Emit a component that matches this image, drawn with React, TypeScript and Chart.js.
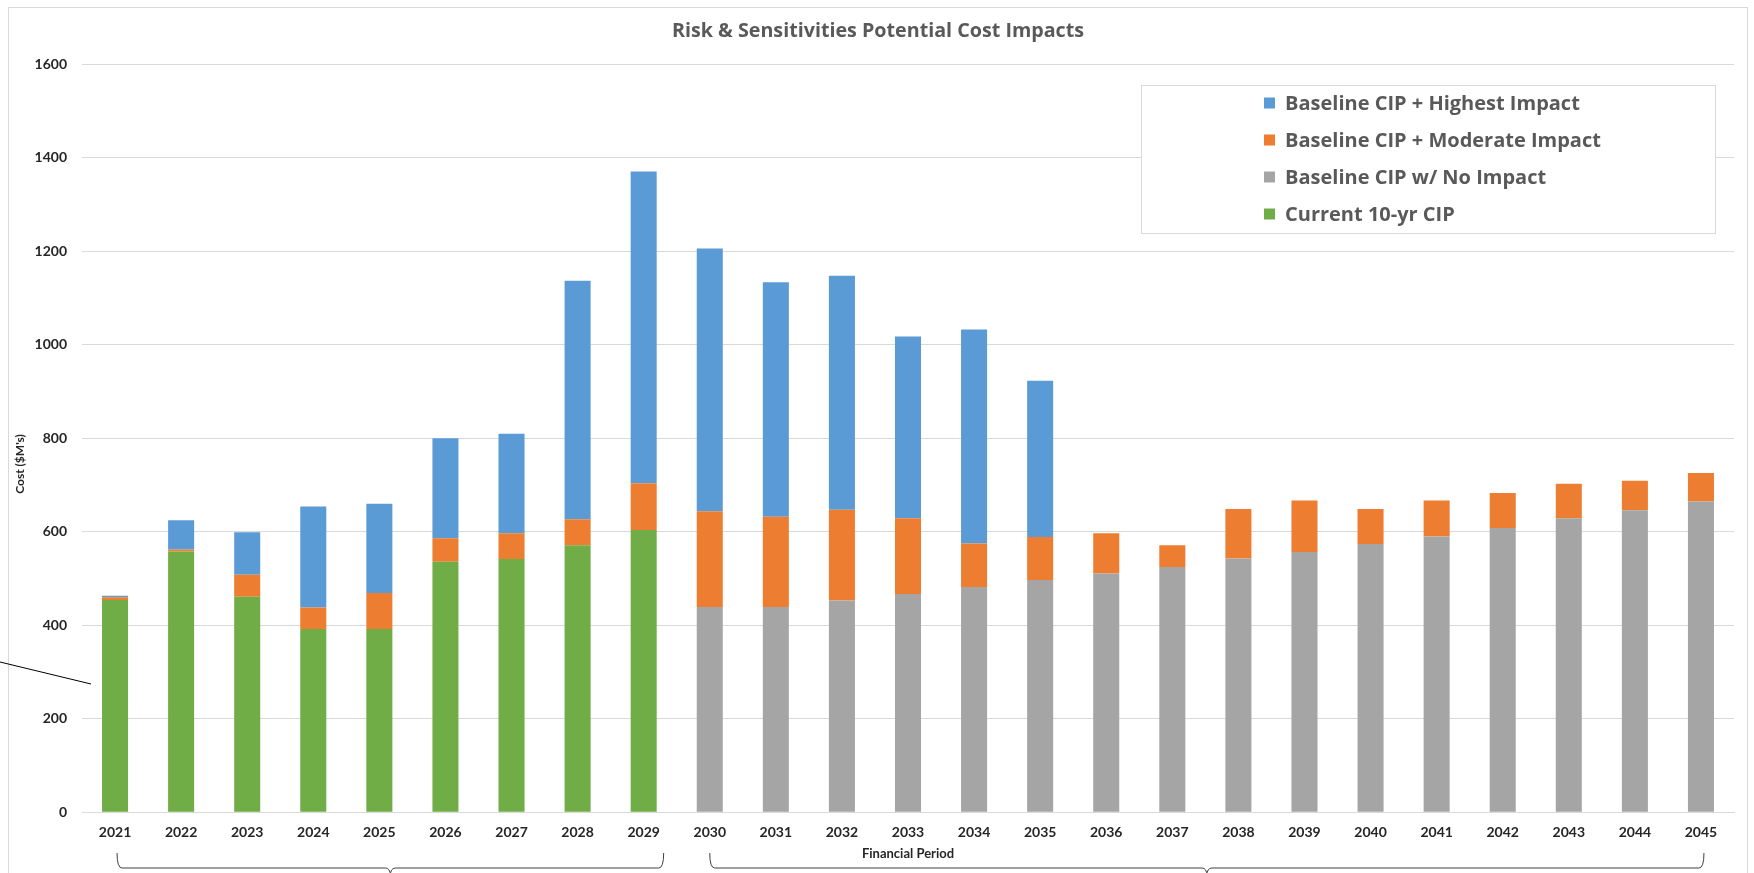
import React, { useEffect, useRef } from 'react';
import { Chart, registerables } from 'chart.js';

Chart.register(...registerables);

// ---------- data ----------
const years = [
  '2021', '2022', '2023', '2024', '2025', '2026', '2027', '2028', '2029',
  '2030', '2031', '2032', '2033', '2034', '2035', '2036', '2037', '2038',
  '2039', '2040', '2041', '2042', '2043', '2044', '2045',
];

const current10yrCIP = [
  454, 558, 461, 392, 392, 536, 542, 571, 604,
  null, null, null, null, null, null, null, null, null, null, null, null, null, null, null, null,
];

const baselineNoImpact = [
  null, null, null, null, null, null, null, null, null,
  439, 439, 453, 467, 482, 497, 511, 525, 543, 557, 574, 590, 608, 629, 646, 665,
];

const moderateImpact = [
  6, 4, 47, 46, 77, 50, 55, 56, 100,
  205, 193, 194, 162, 93, 92, 86, 46, 106, 110, 75, 77, 75, 74, 63, 61,
];

const highestImpact = [
  3, 63, 91, 216, 191, 214, 213, 510, 667,
  562, 502, 501, 389, 458, 334, null, null, null, null, null, null, null, null, null, null,
];

const yTicks = [0, 200, 400, 600, 800, 1000, 1200, 1400, 1600];

const chartTitle = 'Risk & Sensitivities Potential Cost Impacts';
const yAxisTitle = "Cost ($M's)";
const xAxisTitle = 'Financial Period';

const FONT = 'Lato, "Open Sans", "DejaVu Sans", sans-serif';
const WIDE_FONT = '"Open Sans", Lato, "DejaVu Sans", sans-serif';

export default function App() {
  const ref = useRef<HTMLCanvasElement>(null);

  useEffect(() => {
    const canvas = ref.current;
    if (!canvas) return;

    const decor = {
      id: 'decor',
      beforeDraw(chart: any) {
        const ctx = chart.ctx;
        ctx.save();
        ctx.fillStyle = '#ffffff';
        ctx.fillRect(0, 0, chart.width, chart.height);
        ctx.strokeStyle = '#d9d9d9';
        ctx.lineWidth = 1;
        ctx.strokeRect(8.5, 7.5, 1739, 1000);
        ctx.restore();
      },
      afterDraw(chart: any) {
        const ctx = chart.ctx;
        const xs = chart.scales.x;
        ctx.save();

        // y axis title
        ctx.translate(20, 464);
        ctx.rotate(-Math.PI / 2);
        ctx.font = `bold 12px ${FONT}`;
        ctx.fillStyle = '#262626';
        ctx.textAlign = 'center';
        ctx.textBaseline = 'middle';
        ctx.fillText(yAxisTitle, 0, 0);
        ctx.setTransform(1, 0, 0, 1, 0, 0);

        // legend box
        const lx = 1141, ly = 85, lw = 574, lh = 148;
        ctx.fillStyle = '#ffffff';
        ctx.fillRect(lx, ly, lw, lh);
        ctx.strokeStyle = '#d9d9d9';
        ctx.lineWidth = 1;
        ctx.strokeRect(lx + 0.5, ly + 0.5, lw, lh);
        const ds = chart.data.datasets.slice().reverse();
        ctx.font = `bold 20px ${WIDE_FONT}`;
        ctx.textAlign = 'left';
        ctx.textBaseline = 'middle';
        ds.forEach((d: any, i: number) => {
          const cy = 103 + i * 37;
          ctx.fillStyle = d.backgroundColor;
          ctx.fillRect(1264, cy - 5.5, 11, 11);
          ctx.fillStyle = '#595959';
          ctx.fillText(d.label, 1285, cy + 1);
        });

        // brackets below the axis
        const drawBracket = (x1: number, x2: number) => {
          const top = 853, base = 868, r = 5;
          const mid = (x1 + x2) / 2;
          ctx.beginPath();
          ctx.moveTo(x1, top);
          ctx.quadraticCurveTo(x1, base, x1 + r, base);
          ctx.lineTo(mid - r, base);
          ctx.quadraticCurveTo(mid, base, mid, base + 8);
          ctx.moveTo(x2, top);
          ctx.quadraticCurveTo(x2, base, x2 - r, base);
          ctx.lineTo(mid + r, base);
          ctx.quadraticCurveTo(mid, base, mid, base + 8);
          ctx.strokeStyle = '#404040';
          ctx.lineWidth = 1;
          ctx.stroke();
        };
        drawBracket(xs.getPixelForValue(0) + 2, xs.getPixelForValue(8) + 20);
        drawBracket(xs.getPixelForValue(9), xs.getPixelForValue(24) + 3);

        // pointer line at left
        ctx.beginPath();
        ctx.moveTo(0, 662);
        ctx.lineTo(91, 684);
        ctx.strokeStyle = '#000000';
        ctx.lineWidth = 1;
        ctx.stroke();

        ctx.restore();
      },
    };

    const barCommon = {
      categoryPercentage: 1,
      barPercentage: 0.394,
      borderWidth: 0,
    };

    const chart = new Chart(canvas, {
      type: 'bar',
      data: {
        labels: years,
        datasets: [
          { label: 'Current 10-yr CIP', data: current10yrCIP, backgroundColor: '#70ad47', ...barCommon },
          { label: 'Baseline CIP w/ No Impact', data: baselineNoImpact, backgroundColor: '#a5a5a5', ...barCommon },
          { label: 'Baseline CIP + Moderate Impact', data: moderateImpact, backgroundColor: '#ed7d31', ...barCommon },
          { label: 'Baseline CIP + Highest Impact', data: highestImpact, backgroundColor: '#5b9bd5', ...barCommon },
        ],
      },
      options: {
        animation: false,
        responsive: false,
        devicePixelRatio: 1,
        layout: { padding: { left: 22, right: 20, top: 0, bottom: 0 } },
        plugins: {
          legend: { display: false },
          tooltip: { enabled: false },
          title: {
            display: true,
            text: chartTitle,
            color: '#595959',
            font: { family: WIDE_FONT, size: 19.7, weight: 'bold' },
            padding: { top: 19.2, bottom: 21.5 },
          },
        },
        scales: {
          x: {
            stacked: true,
            grid: { display: false, drawTicks: false },
            border: { display: true, color: '#d9d9d9' },
            ticks: {
              color: '#262626',
              font: { family: FONT, size: 14, weight: 'bold' },
              padding: 12,
              maxRotation: 0,
              autoSkip: false,
            },
            title: {
              display: true,
              text: xAxisTitle,
              color: '#262626',
              font: { family: FONT, size: 13, weight: 'bold' },
              padding: { top: 0, bottom: 11 },
            },
            afterFit: (s: any) => { s.height = 60.7; },
          },
          y: {
            stacked: true,
            min: 0,
            max: 1600,
            afterBuildTicks: (s: any) => { s.ticks = yTicks.map((v) => ({ value: v })); },
            grid: { color: '#d9d9d9', lineWidth: 1, drawTicks: false },
            border: { display: false },
            ticks: {
              color: '#262626',
              font: { family: FONT, size: 14, weight: 'bold' },
              padding: 15,
              callback: (v: any) => String(v),
            },
            afterFit: (s: any) => { s.width = 60; },
          },
        },
      },
      plugins: [decor],
    } as any);

    return () => chart.destroy();
  }, []);

  return (
    <div style={{ position: 'fixed', left: 0, top: 0, width: 1754, height: 873, background: '#fff' }}>
      <canvas ref={ref} width={1754} height={873} style={{ display: 'block', width: 1754, height: 873 }} />
    </div>
  );
}
